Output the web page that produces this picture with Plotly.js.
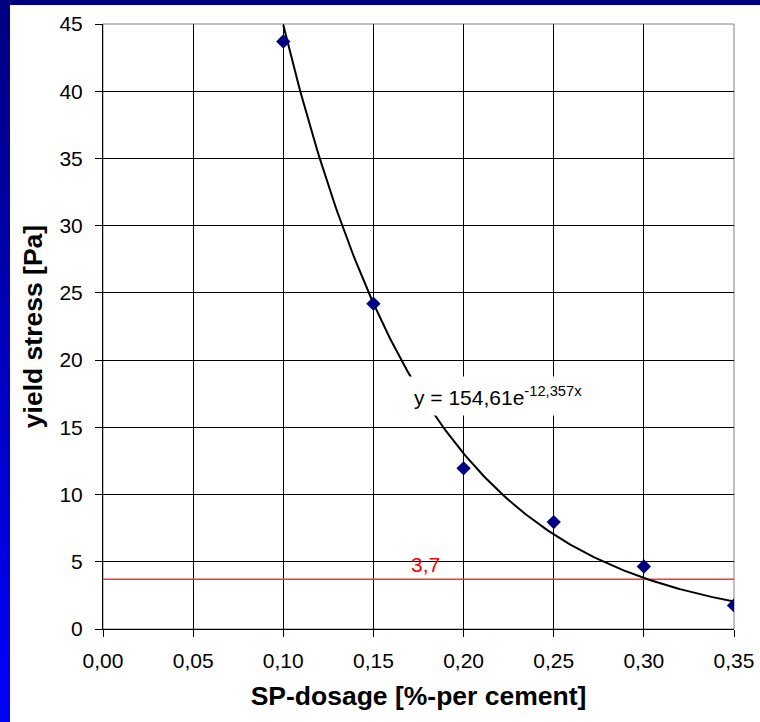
<!DOCTYPE html>
<html>
<head>
<meta charset="utf-8">
<script src="https://cdn.plot.ly/plotly-3.0.1.min.js"></script>
<style>
  html, body { margin: 0; padding: 0; background: #ffffff; }
  #wrap { position: relative; width: 760px; height: 722px; background: #ffffff; overflow: hidden; }
  #leftbar { position: absolute; left: 0; top: 0; width: 10px; height: 722px;
             background: linear-gradient(to bottom, #000080, #0000ff); z-index: 2; }
  #topbar { position: absolute; left: 0; top: 0; width: 760px; height: 5px; background: #000080; z-index: 2; }
  #chart { position: absolute; left: 0; top: 0; width: 760px; height: 722px; }
</style>
</head>
<body>
<div id="wrap">
  <div id="chart"></div>
  <div id="leftbar"></div>
  <div id="topbar"></div>
</div>
<script>
// Measured data
const spDosage = [0.10, 0.15, 0.20, 0.25, 0.30, 0.35];
const yieldStress = [43.7, 24.2, 11.95, 7.95, 4.65, 1.75];

// Trendline as printed on the chart: y = 154,61 e^(-12,357 x)
const trendA = 154.61;
const trendB = -12.357;
const trendRange = [0.10, 0.35];

// Threshold line
const thresholdValue = [3.7];
const thresholdLabel = ["3,7"];

// Axis ticks
const xTicks = [0.00, 0.05, 0.10, 0.15, 0.20, 0.25, 0.30, 0.35];
const yTicks = [0, 5, 10, 15, 20, 25, 30, 35, 40, 45];

// Trendline sample points
const trendX = [];
const trendY = [];
for (let i = 0; i <= 200; i++) {
  const x = trendRange[0] + (trendRange[1] - trendRange[0]) * i / 200;
  trendX.push(x);
  trendY.push(trendA * Math.exp(trendB * x));
}

const font = "Arial, 'Liberation Sans', sans-serif";

const traces = [
  {
    x: [xTicks[0], xTicks[xTicks.length - 1]],
    y: [thresholdValue[0], thresholdValue[0]],
    mode: 'lines',
    line: { color: '#ff3333', width: 1.5 },
    hoverinfo: 'skip',
    showlegend: false
  },
  {
    x: trendX, y: trendY,
    mode: 'lines',
    line: { color: '#000000', width: 2 },
    hoverinfo: 'skip',
    showlegend: false
  },
  {
    x: spDosage, y: yieldStress,
    mode: 'markers',
    marker: { symbol: 'diamond', size: 11, color: '#000080' },
    showlegend: false
  }
];

const layout = {
  width: 760, height: 722,
  margin: { l: 103, r: 26, t: 24, b: 93 },
  paper_bgcolor: '#ffffff',
  plot_bgcolor: '#ffffff',
  separators: ',.',
  showlegend: false,
  font: { family: font, size: 21, color: '#000000' },
  xaxis: {
    range: [0, 0.35],
    tickvals: xTicks,
    tickformat: '.2f',
    showgrid: true, gridcolor: '#000000', gridwidth: 1,
    zeroline: false,
    showline: true, linecolor: '#000000', linewidth: 1,
    ticks: 'outside', ticklen: 7, tickcolor: '#000000',
    ticklabelstandoff: 6,
    tickfont: { family: font, size: 21, color: '#000000' },
    title: { text: '<b>SP-dosage [%-per cement]</b>', font: { family: font, size: 26.5, color: '#000000' }, standoff: 15 }
  },
  yaxis: {
    range: [0, 45],
    tickvals: yTicks,
    showgrid: true, gridcolor: '#000000', gridwidth: 1,
    zeroline: false,
    showline: true, linecolor: '#000000', linewidth: 1,
    ticks: 'outside', ticklen: 7, tickcolor: '#000000',
    ticklabelstandoff: 8,
    tickfont: { family: font, size: 21, color: '#000000' },
    title: { text: '<b>yield stress [Pa]</b>', font: { family: font, size: 26.5, color: '#000000' }, standoff: 9 }
  },
  shapes: [
    { type: 'rect', xref: 'paper', yref: 'paper', x0: 0, x1: 1, y0: 0, y1: 1,
      line: { color: '#808080', width: 1 }, fillcolor: 'rgba(0,0,0,0)', layer: 'below' }
  ],
  annotations: [
    {
      x: 0.219, y: 17.3, xref: 'x', yref: 'y',
      text: 'y = 154,61e<sup>-12,357x</sup>',
      showarrow: false,
      font: { family: font, size: 21, color: '#000000' },
      bgcolor: '#ffffff', borderpad: 6
    },
    {
      x: 0.179, y: thresholdValue[0], xref: 'x', yref: 'y',
      yanchor: 'bottom', yshift: 1,
      text: thresholdLabel[0],
      showarrow: false,
      font: { family: font, size: 21, color: '#ff0000' }
    }
  ]
};

Plotly.newPlot('chart', traces, layout, { displayModeBar: false, staticPlot: true });
</script>
</body>
</html>
